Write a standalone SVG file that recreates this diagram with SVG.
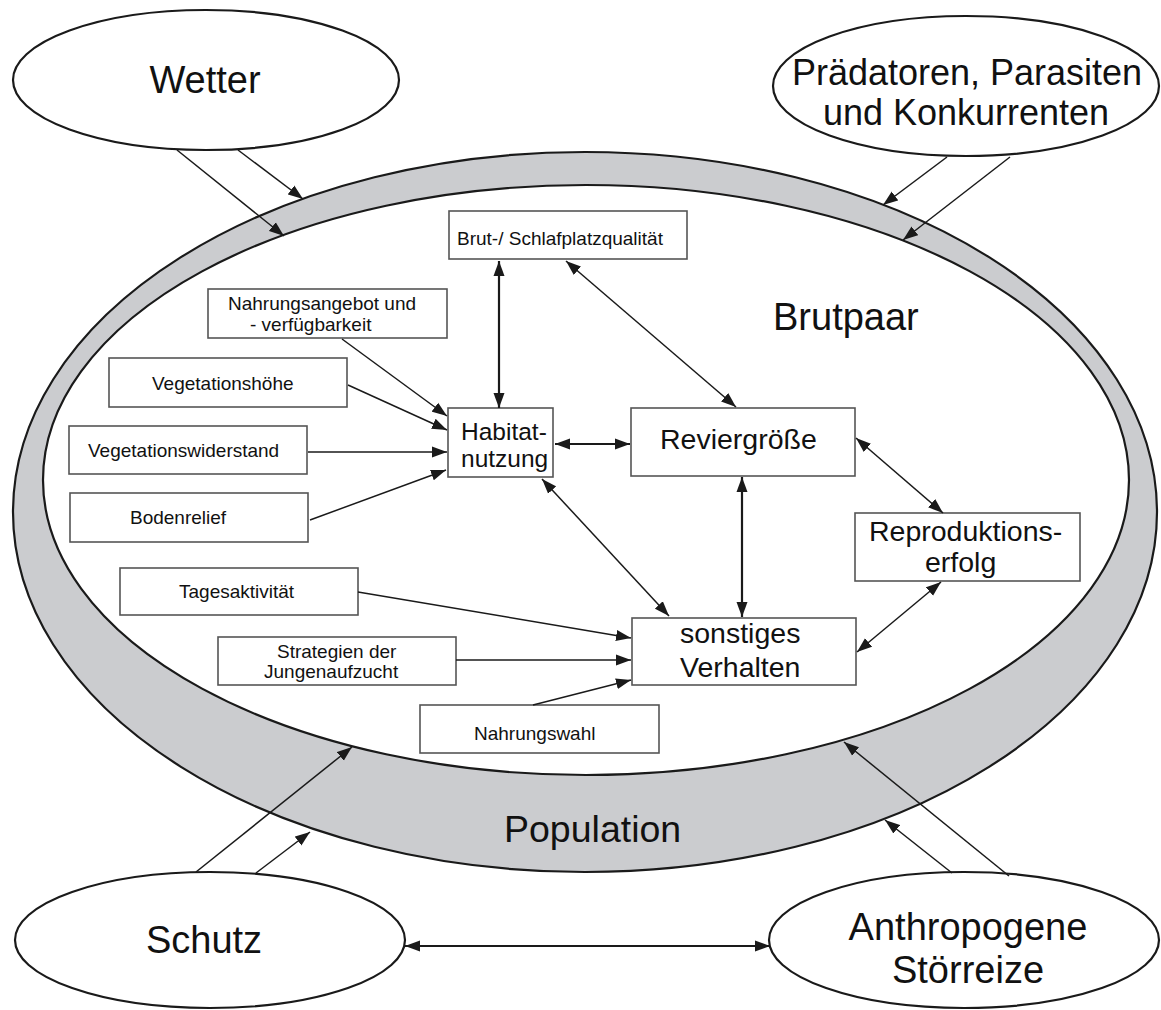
<svg xmlns="http://www.w3.org/2000/svg" width="1161" height="1010" viewBox="0 0 1161 1010">
<style>
text{font-family:"Liberation Sans",Arial,sans-serif;fill:#111}
.big{font-size:38px}
.mid{font-size:28.5px}
.sm{font-size:19px}
.ell{fill:#fff;stroke:#1a1a1a;stroke-width:2.2}
.box{fill:#fff;stroke:#555;stroke-width:1.6}
.c{stroke:#1a1a1a;stroke-width:1.5;fill:none;marker-end:url(#ah)}
.d{marker-start:url(#ah)}
.t{stroke-width:2.2}
</style>
<defs>
<marker id="ah" markerUnits="userSpaceOnUse" markerWidth="16" markerHeight="12" refX="15" refY="6" orient="auto-start-reverse">
<path d="M0,0.5 L15,6 L0,11.5 z" fill="#1a1a1a"/>
</marker>
</defs>
<rect width="1161" height="1010" fill="#fff"/>
<g id="ring">
<path d="M13,512 A572,360 0 1,0 1157,512 A572,360 0 1,0 13,512 Z M43,480 A543,295 0 1,0 1129,480 A543,295 0 1,0 43,480 Z" fill="#cbcccf" fill-rule="evenodd" stroke="#1a1a1a" stroke-width="2.2"/>
<text class="big" x="773" y="330">Brutpaar</text>
<text class="big" x="504" y="842" style="font-size:37.5px">Population</text>
</g>
<g id="wetter"><ellipse class="ell" cx="206" cy="80" rx="193" ry="70"/><text class="big" x="205" y="93" text-anchor="middle">Wetter</text></g>
<g id="praedatoren"><ellipse class="ell" cx="966" cy="86" rx="193" ry="70"/><text x="967" y="85" text-anchor="middle" style="font-size:36px">Prädatoren, Parasiten</text><text x="966" y="125" text-anchor="middle" style="font-size:36px">und Konkurrenten</text></g>
<g id="schutz"><ellipse class="ell" cx="210" cy="940" rx="195" ry="68"/><text class="big" x="204" y="953" text-anchor="middle">Schutz</text></g>
<g id="anthropogene"><ellipse class="ell" cx="964" cy="940" rx="195" ry="68"/><text class="big" x="968" y="940" text-anchor="middle">Anthropogene</text><text class="big" x="968" y="983" text-anchor="middle">Störreize</text></g>
<g id="brutplatz"><rect class="box" x="449" y="211" width="238" height="48"/><text class="sm" x="457" y="245">Brut-/ Schlafplatzqualität</text></g>
<g id="nahrungsangebot"><rect class="box" x="208" y="289" width="239" height="49"/><text class="sm" x="228" y="310">Nahrungsangebot und</text><text class="sm" x="250" y="331">- verfügbarkeit</text></g>
<g id="vegetationshoehe"><rect class="box" x="109" y="358" width="238" height="49"/><text class="sm" x="152" y="390">Vegetationshöhe</text></g>
<g id="vegetationswiderstand"><rect class="box" x="69" y="426" width="238" height="48"/><text class="sm" x="88" y="457">Vegetationswiderstand</text></g>
<g id="bodenrelief"><rect class="box" x="70" y="493" width="238" height="49"/><text class="sm" x="130" y="524">Bodenrelief</text></g>
<g id="tagesaktivitaet"><rect class="box" x="120" y="568" width="238" height="47"/><text class="sm" x="179" y="598">Tagesaktivität</text></g>
<g id="strategien"><rect class="box" x="218" y="637" width="238" height="48"/><text class="sm" x="277" y="658">Strategien der</text><text class="sm" x="264" y="678">Jungenaufzucht</text></g>
<g id="nahrungswahl"><rect class="box" x="420" y="705" width="239" height="48"/><text class="sm" x="474" y="740">Nahrungswahl</text></g>
<g id="habitat"><rect class="box" x="448" y="408" width="105" height="69"/><text x="461" y="440" style="font-size:24.5px">Habitat-</text><text x="461" y="467" style="font-size:24.5px">nutzung</text></g>
<g id="reviergroesse"><rect class="box" x="631" y="408" width="224" height="68"/><text class="mid" x="660" y="449">Reviergröße</text></g>
<g id="reproduktion"><rect class="box" x="855" y="513" width="225" height="68"/><text class="mid" x="869" y="541">Reproduktions-</text><text class="mid" x="925" y="572">erfolg</text></g>
<g id="sonstiges"><rect class="box" x="632" y="618" width="224" height="67"/><text class="mid" x="680" y="643">sonstiges</text><text class="mid" x="680" y="677">Verhalten</text></g>
<g id="connectors">
<line class="c" x1="238" y1="150" x2="303" y2="199"/>
<line class="c" x1="177" y1="150" x2="284" y2="236"/>
<line class="c" x1="947" y1="157" x2="883" y2="205"/>
<line class="c" x1="1010" y1="157" x2="903" y2="240"/>
<line class="c" x1="196" y1="872" x2="352" y2="747"/>
<line class="c" x1="256" y1="873" x2="310" y2="832"/>
<line class="c" x1="1009" y1="876" x2="844" y2="742"/>
<line class="c" x1="952" y1="873" x2="885" y2="820"/>
<line class="c d t" x1="405" y1="946" x2="770" y2="946"/>
<line class="c d t" x1="499" y1="261" x2="499" y2="408"/>
<line class="c d" x1="566" y1="261" x2="736" y2="407"/>
<line class="c" x1="342" y1="339" x2="447" y2="416"/>
<line class="c" x1="348" y1="385" x2="447" y2="430"/>
<line class="c" x1="308" y1="452" x2="447" y2="452"/>
<line class="c" x1="310" y1="520" x2="446" y2="470"/>
<line class="c d t" x1="555" y1="444" x2="630" y2="444"/>
<line class="c d" x1="542" y1="479" x2="669" y2="616"/>
<line class="c d t" x1="742" y1="477" x2="742" y2="617"/>
<line class="c d" x1="856" y1="438" x2="943" y2="513"/>
<line class="c d" x1="941" y1="582" x2="857" y2="652"/>
<line class="c" x1="358" y1="592" x2="631" y2="638"/>
<line class="c" x1="456" y1="660" x2="631" y2="660"/>
<line class="c" x1="533" y1="705" x2="631" y2="680"/>
</g>
</svg>
